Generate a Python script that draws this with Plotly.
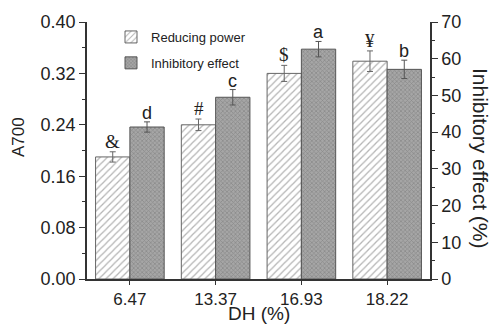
import plotly.graph_objects as go

dh_labels = ["6.47", "13.37", "16.93", "18.22"]
reducing_power = [0.190, 0.240, 0.320, 0.339]
reducing_err = [0.008, 0.009, 0.0125, 0.016]
inhibitory = [41.4, 49.5, 62.6, 57.1]
inhibitory_err = [1.4, 2.1, 2.1, 2.5]
rp_marks = ["&", "#", "$", "¥"]
ie_marks = ["d", "c", "a", "b"]

AX = "#333333"
TXT = "#222222"

fig = go.Figure()
fig.add_trace(go.Bar(
    x=dh_labels, y=reducing_power, name="Reducing power", legendgroup="rp",
    xaxis="x", yaxis="y", width=0.4, offset=-0.4,
    marker=dict(color="white", line=dict(color="#666666", width=1),
                pattern=dict(shape="/", fgcolor="#6a6a6a", bgcolor="white", size=5, solidity=0.25)),
    error_y=dict(type="data", array=reducing_err, color="#666666", thickness=1, width=3),
))
fig.add_trace(go.Bar(
    x=dh_labels, y=inhibitory, name="Inhibitory effect", legendgroup="ie",
    xaxis="x", yaxis="y2", width=0.4, offset=0,
    marker=dict(color="#9a9a9a", line=dict(color="#555555", width=1),
                pattern=dict(shape="x", fgcolor="#6a6a6a", bgcolor="#a6a6a6", size=3, solidity=0.4)),
    error_y=dict(type="data", array=inhibitory_err, color="#555555", thickness=1, width=3),
))

annotations = []
for i, lab in enumerate(dh_labels):
    annotations.append(dict(x=i, xshift=-17, y=reducing_power[i] + reducing_err[i], xref="x", yref="y",
                            text=rp_marks[i], showarrow=False, yanchor="bottom", yshift=-2,
                            font=dict(family="Liberation Serif", size=19, color=TXT)))
    annotations.append(dict(x=i, xshift=17, y=inhibitory[i] + inhibitory_err[i], xref="x", yref="y2",
                            text=ie_marks[i], showarrow=False, yanchor="bottom", yshift=-3,
                            font=dict(family="Liberation Sans", size=18, color=TXT)))

L, R, T, B, W, H = 87, 63, 22, 45, 493, 324
pw, ph = W - L - R, H - T - B
titles = [
    ("A700", 18, 137, -90, 17),
    ("DH (%)", 259, 313, 0, 19),
    ("Inhibitory effect (%)", 481, 159, 90, 21),
]
for text, px, py, ang, fs in titles:
    annotations.append(dict(text=text, x=(px - L) / pw, y=1 - (py - T) / ph, xref="paper", yref="paper",
                            showarrow=False, textangle=ang, xanchor="center", yanchor="middle",
                            font=dict(size=fs, color=TXT)))

fig.update_layout(
    width=W, height=H,
    margin=dict(l=L, r=R, t=T, b=B),
    paper_bgcolor="white", plot_bgcolor="white",
    font=dict(family="Liberation Sans", color=TXT),
    showlegend=True,
    legend=dict(x=0.07, y=1.0, xanchor="left", yanchor="top", bgcolor="rgba(0,0,0,0)",
                font=dict(size=13, color=TXT), traceorder="grouped", itemwidth=30,
                tracegroupgap=6),
    xaxis=dict(type="category", range=[-0.5, 3.5], showline=True, linecolor=AX, linewidth=1.5,
               ticks="outside", ticklen=4, tickcolor=AX, tickwidth=1.2, showgrid=False,
               tickfont=dict(size=17, color=TXT), zeroline=False),
    xaxis3=dict(overlaying="x", side="top", range=[0, 5], tickvals=[1, 2, 3, 4], showticklabels=False,
                ticks="inside", ticklen=4, tickcolor=AX, tickwidth=1.2, showline=True, linecolor=AX,
                linewidth=1.5, showgrid=False, zeroline=False, anchor="y"),
    xaxis4=dict(overlaying="x", side="bottom", range=[-0.5, 3.5], tickvals=[0.5, 1.5, 2.5],
                showticklabels=False, ticks="outside", ticklen=3, tickcolor=AX, tickwidth=1.2,
                showline=False, showgrid=False, zeroline=False, anchor="y"),
    yaxis=dict(range=[0, 0.4], dtick=0.08, tickformat=".2f", showline=True, linecolor=AX, linewidth=1.5,
               ticks="outside", ticklen=6, tickcolor=AX, tickwidth=1.2, showgrid=False, zeroline=False,
               tickfont=dict(size=18, color=TXT),
               minor=dict(dtick=0.04, ticks="outside", ticklen=3, tickcolor=AX, showgrid=False)),
    yaxis2=dict(overlaying="y", side="right", range=[0, 70], dtick=10, showline=True, linecolor=AX,
                linewidth=1.5, ticks="outside", ticklen=6, tickcolor=AX, tickwidth=1.2, showgrid=False,
                zeroline=False, tickfont=dict(size=18, color=TXT),
                minor=dict(dtick=5, ticks="outside", ticklen=3, tickcolor=AX, showgrid=False)),
    annotations=annotations,
)

fig.write_html("out.html", config={"displayModeBar": False},
               post_script="document.body.style.margin='0';document.body.style.overflow='hidden';")
